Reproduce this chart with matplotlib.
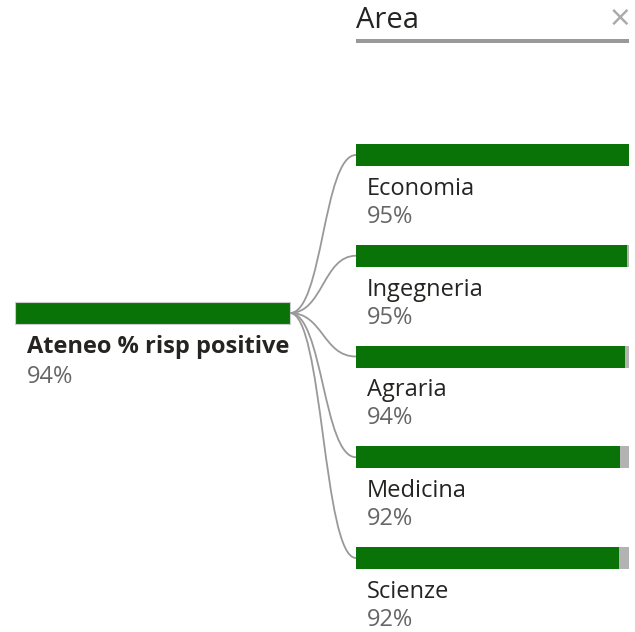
import numpy as np
import matplotlib.pyplot as plt
from matplotlib.path import Path
from matplotlib.patches import PathPatch, Rectangle

# root node
root_label = 'Ateneo % risp positive'
root_value = 94

# level "Area"
level_title = 'Area'
areas = ['Economia', 'Ingegneria', 'Agraria', 'Medicina', 'Scienze']
area_values = [95.4, 94.6, 94.0, 92.2, 92.0]  # % risposte positive (stimate)

green = '#0a7308'
grey_bar = '#b3b3b3'
link_col = '#999999'
text_col = '#252423'
val_col = '#666666'

plt.rcParams['font.family'] = ['Open Sans', 'DejaVu Sans']

fig = plt.figure(figsize=(6.35, 6.32), dpi=100)
ax = fig.add_axes([0, 0, 1, 1])
ax.set_xlim(0, 635)
ax.set_ylim(632, 0)
ax.axis('off')

# root bar
rx0, rx1, ry, bh = 15, 290, 302, 22
ax.add_patch(Rectangle((rx0, ry), rx1 - rx0, bh, facecolor=green,
                       edgecolor='#cccccc', lw=0.8))
ax.text(27, ry + 45, root_label, fontsize=17, fontweight='bold',
        color=text_col, va='center', ha='left')
ax.text(27, ry + 75, f'{root_value}%', fontsize=17, color=val_col,
        va='center', ha='left')

# header
cx0, cx1 = 356, 629
ax.text(356, 20, level_title, fontsize=21, color=text_col, va='center')
ax.add_patch(Rectangle((cx0, 39), cx1 - cx0, 4, facecolor='#999999', lw=0))
ax.text(620, 21, '\u00d7', fontsize=26, color='#aaaaaa', va='center',
        ha='center')

# children
vmax = max(area_values)
y0, step = 144, 100.75
ystart = ry + bh / 2
for i, (name, v) in enumerate(zip(areas, area_values)):
    y = y0 + i * step
    w = cx1 - cx0
    ax.add_patch(Rectangle((cx0, y), w, bh, facecolor=grey_bar, lw=0))
    ax.add_patch(Rectangle((cx0, y), w * v / vmax, bh, facecolor=green, lw=0))
    ax.text(367, y + 45, name, fontsize=17, color=text_col, va='center')
    ax.text(367, y + 73, f'{round(v)}%', fontsize=17, color=val_col,
            va='center')
    # connector
    yt = y + bh / 2
    xm = (rx1 + cx0) / 2
    verts = [(rx1, ystart), (xm, ystart), (xm, yt), (cx0, yt)]
    path = Path(verts, [Path.MOVETO, Path.CURVE4, Path.CURVE4, Path.CURVE4])
    ax.add_patch(PathPatch(path, facecolor='none', edgecolor=link_col, lw=1.3))

fig.savefig('out.png', dpi=100)
